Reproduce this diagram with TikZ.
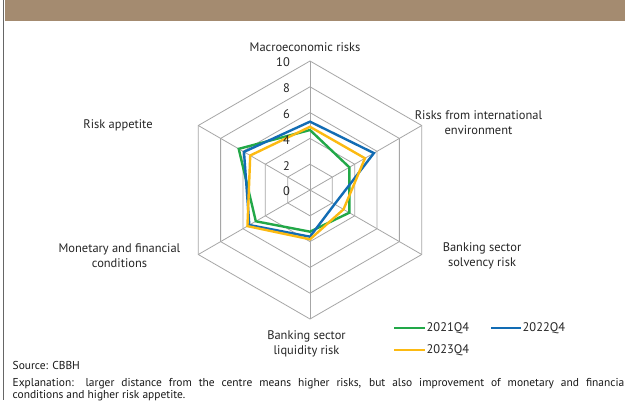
\documentclass[tikz,border=0pt]{standalone}
\usepackage{fontspec}
\setmainfont{PT Sans}
\definecolor{band}{RGB}{164,139,112}
\definecolor{gridc}{RGB}{166,166,166}
\definecolor{sgreen}{RGB}{34,168,72}
\definecolor{sblue}{RGB}{18,108,180}
\definecolor{syellow}{RGB}{252,186,18}
\newcommand\radarpoly[7]{\draw[series,#1] (-90:{#2*12.9}) -- (-30:{#3*12.9}) -- (30:{#4*12.9}) -- (90:{#5*12.9}) -- (150:{#6*12.9}) -- (210:{#7*12.9}) -- cycle;}
\begin{document}
\begin{tikzpicture}[x=1bp,y=-1bp,
  lbl/.style={font=\fontsize{12.5}{15}\selectfont, align=center, inner sep=0pt, text=black!85},
  tick/.style={font=\fontsize{12.5}{15}\selectfont, anchor=east, inner sep=0pt, text=black!85},
  gridline/.style={draw=gridc, line width=0.8bp},
  series/.style={line width=2.4bp, line join=miter},
  foot/.style={font=\fontsize{11.5}{11.8}\selectfont, inner sep=0pt, anchor=north west, text=black!90}]
\useasboundingbox (0,0) rectangle (625,400);
\clip (0,0) rectangle (625,400);
\fill[white] (0,0) rectangle (625,400);
\fill[band] (4.5,0) rectangle (625,20.5);
\draw[black!60, line width=0.8bp] (3.5,0) -- (3.5,400);
\begin{scope}[shift={(310,190)}]
  \foreach \k in {1,...,5}
    \draw[gridline] (-90:{\k*25.8}) -- (-30:{\k*25.8}) -- (30:{\k*25.8}) -- (90:{\k*25.8}) -- (150:{\k*25.8}) -- (210:{\k*25.8}) -- cycle;
  \foreach \a in {-90,-30,30,90,150,210}
    \draw[gridline] (0,0) -- (\a:129);
  \radarpoly{sgreen}{4.65}{3.52}{3.52}{3.23}{4.85}{6.38}
  \radarpoly{sblue}{5.3}{5.72}{2.2}{3.62}{5.43}{5.91}
  \radarpoly{syellow}{4.9}{4.92}{3.0}{3.82}{5.6}{5.35}
\end{scope}
\foreach \k/\t in {0/0,1/2,2/4,3/6,4/8,5/10}
  \node[tick] (t\k) at (290,{191.5-\k*25.8}) {\t};
\node[lbl] (macro) at (305,47.5) {Macroeconomic risks};
\node[lbl] (intl) at (478.5,122.5) {Risks from international\\environment};
\node[lbl] (solv) at (482,256) {Banking sector\\solvency risk};
\node[lbl] (liq) at (306.5,343.5) {Banking sector\\liquidity risk};
\node[lbl] (mon) at (119.5,255.5) {Monetary and financial\\conditions};
\node[lbl] (app) at (118,125) {Risk appetite};
\draw[series, sgreen] (394,328) -- (425,328);
\node[lbl, anchor=west] (l1) at (426.5,328) {2021Q4};
\draw[series, sblue] (491,328) -- (521,328);
\node[lbl, anchor=west] (l2) at (522.5,328) {2022Q4};
\draw[series, syellow] (394,350) -- (425,350);
\node[lbl, anchor=west] (l3) at (426.5,350) {2023Q4};
\node[foot] (src) at (12.5,361.5) {Source: CBBH};
\node[foot, text width=615bp, align=justify] (expl) at (12.5,378) {Explanation: larger distance from the centre means higher risks, but also improvement of monetary and financial\linebreak conditions and higher risk appetite.};
\end{tikzpicture}
\end{document}
